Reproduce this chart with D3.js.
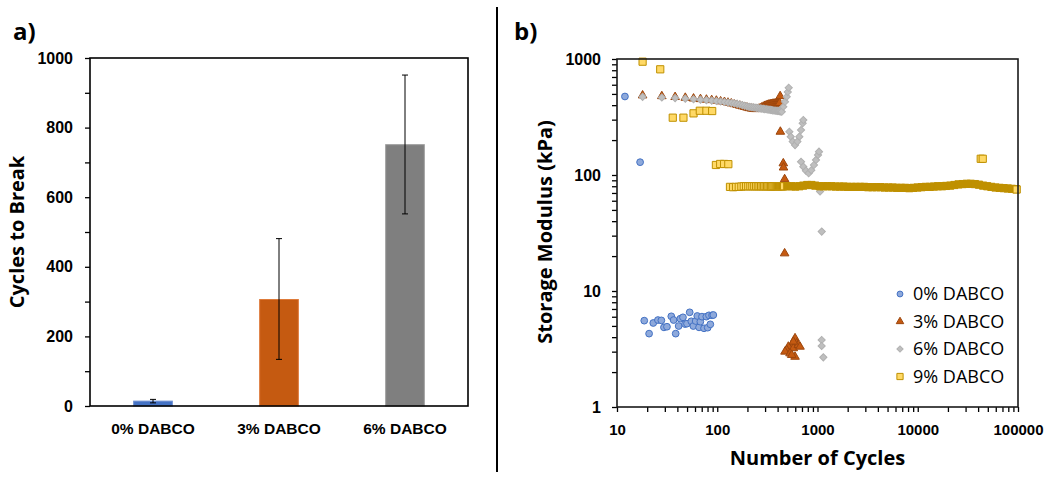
<!DOCTYPE html>
<html lang="en">
<head>
  <meta charset="UTF-8">
  <title>DABCO cycles to break / storage modulus</title>
  <script src="https://d3js.org/d3.v7.min.js"></script>
</head>

<style>
  body {
    margin: 0;
    background: #fff;
  }

  svg {
    display: block;
    font-family: "Open Sans", sans-serif;
  }

  .tick text {
    font-size: 15px;
    font-weight: 700;
    fill: #000;
  }

  .tick line {
    stroke: #000;
    stroke-width: 1.3px;
  }
</style>

<body>
<div id="chart"></div>

<script>
  // ---- panel a: cycles to break (mean + error range) ----
  var groups = ['0% DABCO', '3% DABCO', '6% DABCO'];
  var cyclesMean = [14, 306, 751];
  var cyclesLow = [9, 134, 552];
  var cyclesHigh = [19, 481, 951];
  var barTickValues = [0, 100, 200, 300, 400, 500, 600, 700, 800, 900, 1000];
  var barTickLabels = ['0', '', '200', '', '400', '', '600', '', '800', '', '1000'];

  // ---- panel b: storage modulus (kPa) vs number of cycles ----
  var seriesNames = ['0% DABCO', '3% DABCO', '6% DABCO', '9% DABCO'];

  var dabco0 = [
    [12, 475], [17, 129],
    [18.7, 5.55], [20.9, 4.29], [23.0, 5.30], [25.6, 5.62], [27.7, 5.58], [29.4, 4.86],
    [31.5, 4.92], [34.8, 6.05], [36.7, 5.62], [38.5, 4.29], [41.2, 4.99], [42.8, 5.77],
    [45.5, 5.93], [47.7, 5.19], [49.9, 5.23], [53.1, 6.55], [55.1, 5.48], [57.7, 4.99],
    [60.9, 5.51], [63.2, 6.09], [65.8, 4.86], [67.8, 5.44], [70.4, 6.01], [73.8, 4.77],
    [77.8, 6.01], [80.3, 4.83], [82.7, 6.17], [85.3, 5.16], [88.7, 6.17], [91.4, 6.21]
  ];

  var dabco3 = [
    [18, 485], [28, 478], [38, 470], [48, 463], [58, 456], [68, 451], [78, 446], [88, 442],
    [98, 437], [108, 431], [118, 426], [128, 420], [138, 414], [148, 408], [158, 402],
    [168, 396], [178, 391], [188, 386], [198, 381], [208, 377], [218, 374], [228, 372],
    [238, 370], [248, 370], [258, 372], [268, 376], [278, 382], [288, 388], [298, 394],
    [308, 398], [318, 402], [328, 405], [338, 407], [348, 409], [358, 411], [368, 412],
    [378, 413], [388, 414], [398, 415], [408, 416], [418, 417], [424, 478], [426, 236],
    [456, 126], [458, 116], [470, 92], [470, 21.1],
    [597, 3.91], [620, 3.54], [553, 3.42], [512, 3.31], [493, 3.10], [474, 3.00], [574, 3.21],
    [532, 2.90], [597, 2.71], [553, 2.81], [644, 3.42], [669, 3.31], [574, 3.66]
  ];

  var dabco6 = [
    [18, 472], [28, 466], [38, 460], [48, 455], [58, 450], [68, 446], [78, 442], [88, 438],
    [98, 434], [108, 430], [118, 426], [128, 422], [138, 418], [148, 414], [158, 410],
    [168, 405], [178, 400], [188, 395], [198, 390], [208, 387], [218, 385], [228, 383],
    [238, 381], [248, 379], [258, 377], [268, 375], [278, 373], [288, 372], [298, 370],
    [308, 369], [318, 367], [328, 366], [338, 364], [348, 363], [358, 361], [368, 360],
    [378, 359], [388, 358], [398, 357], [408, 356], [418, 355], [428, 353], [440, 351],
    [456, 388], [474, 428], [493, 473], [505, 520], [516, 565],
    [524, 236], [541, 214], [566, 194], [597, 181], [630, 194], [659, 214], [685, 244],
    [711, 279], [722, 298],
    [685, 130], [722, 118], [767, 109], [816, 103.5], [867, 110], [922, 122], [966, 135],
    [1012, 149], [1035, 159],
    [1060, 72], [1102, 32.5], [1100, 3.78], [1100, 3.36], [1143, 2.68]
  ];

  var dabco9 = [
    [18, 948], [27, 815], [36, 312], [46, 312], [58, 340], [67, 358], [78, 358], [89, 356],
    [97, 122], [107, 124.5], [117, 124.5], [129, 124],
    [134, 79], [144, 78.5], [154, 79], [164, 79], [174, 79.5], [184, 80], [194, 80], [204, 80],
    [214, 80], [224, 80], [234, 80], [244, 80], [254, 80], [264, 80], [274, 80], [284, 80],
    [294, 80], [304, 80], [314, 80], [324, 80], [334, 80], [344, 79.5], [354, 80], [364, 80],
    [374, 80], [384, 80], [394, 80], [404, 80], [414, 80], [424, 80], [434, 80], [444, 80],
    [454, 80], [464, 80],
    [500, 80], [550, 80], [600, 79.5], [660, 80], [720, 81], [790, 82], [870, 82], [950, 81],
    [1050, 80], [1150, 80], [1260, 80], [1380, 80], [1520, 79.5], [1670, 79.5], [1830, 79.5],
    [2000, 79], [2200, 79], [2420, 79], [2660, 79], [2920, 79], [3200, 78.5], [3520, 78.5],
    [3870, 78.5], [4250, 78.5], [4670, 78], [5130, 78], [5640, 78], [6200, 77.5], [6810, 77.5],
    [7490, 77.5], [8230, 77], [9050, 77.5], [9950, 78], [10900, 78.5], [12000, 79], [13200, 79],
    [14500, 79.5], [15900, 80], [17500, 80], [19200, 80.5], [21100, 81], [23200, 82],
    [25500, 83], [28000, 83.5], [30800, 84], [33800, 84], [37200, 83.5], [40800, 82.5],
    [44900, 81], [49300, 80], [54200, 79], [59600, 78], [65500, 77.5], [72000, 77],
    [79100, 76.5], [86900, 76], [95500, 75.5],
    [42500, 138], [44500, 138], [97000, 75]
  ];

  var width = 1050, height = 483;

  var svg = d3.select('#chart').append('svg')
    .attr('width', width)
    .attr('height', height);

  /* ================= panel a ================= */
  var a = {left: 90, right: 468, top: 58, bottom: 406};

  var xBand = d3.scaleBand().domain(groups).range([a.left, a.right]).padding(0);
  var yBar = d3.scaleLinear().domain([0, 1000]).range([a.bottom, a.top]);

  var barFill = ['#4472C4', '#C55A11', '#7F7F7F'];
  var barEdge = ['#6D8FD3', '#DE7A3A', '#A0A0A0'];
  var barW = xBand.bandwidth() * 0.307;

  var panelA = svg.append('g');

  panelA.append('g')
    .attr('transform', 'translate(' + a.left + ',0)')
    .call(d3.axisLeft(yBar).tickValues(barTickValues).tickSize(5).tickPadding(12)
      .tickFormat(function (d, i) { return barTickLabels[i]; }))
    .call(function (g) { g.select('.domain').remove(); })
    .selectAll('text').style('font-size', '16px');

  panelA.selectAll('rect.bar')
    .data(cyclesMean)
    .enter()
    .append('rect')
    .attr('class', 'bar')
    .attr('x', function (d, i) { return xBand(groups[i]) + xBand.bandwidth() / 2 - barW / 2; })
    .attr('y', function (d) { return yBar(d); })
    .attr('width', barW)
    .attr('height', function (d) { return yBar(0) - yBar(d); })
    .attr('fill', function (d, i) { return barFill[i]; })
    .attr('stroke', function (d, i) { return barEdge[i]; })
    .attr('stroke-width', 1);

  // error bars
  var err = panelA.selectAll('g.err')
    .data(groups)
    .enter()
    .append('g')
    .attr('class', 'err')
    .attr('stroke', '#000')
    .attr('stroke-width', 1);

  err.append('line')
    .attr('x1', function (d) { return xBand(d) + xBand.bandwidth() / 2; })
    .attr('x2', function (d) { return xBand(d) + xBand.bandwidth() / 2; })
    .attr('y1', function (d, i) { return yBar(cyclesLow[i]); })
    .attr('y2', function (d, i) { return yBar(cyclesHigh[i]); });

  [cyclesLow, cyclesHigh].forEach(function (arr) {
    err.append('line')
      .attr('x1', function (d) { return xBand(d) + xBand.bandwidth() / 2 - 3; })
      .attr('x2', function (d) { return xBand(d) + xBand.bandwidth() / 2 + 3; })
      .attr('y1', function (d, i) { return yBar(arr[i]); })
      .attr('y2', function (d, i) { return yBar(arr[i]); });
  });

  panelA.append('g')
    .attr('transform', 'translate(0,' + a.bottom + ')')
    .call(d3.axisBottom(xBand).tickSize(0).tickPadding(17))
    .call(function (g) { g.select('.domain').remove(); })
    .selectAll('text').style('font-size', '15.5px');

  panelA.append('rect')
    .attr('x', a.left).attr('y', a.top)
    .attr('width', a.right - a.left).attr('height', a.bottom - a.top)
    .attr('fill', 'none').attr('stroke', '#000').attr('stroke-width', 1.6);

  panelA.append('text')
    .attr('transform', 'translate(24,232) rotate(-90)')
    .attr('text-anchor', 'middle')
    .style('font-size', '20px').style('font-weight', 700)
    .text('Cycles to Break');

  panelA.append('text')
    .attr('x', 13).attr('y', 40)
    .style('font-size', '24px').style('font-weight', 700)
    .text('a)');

  /* divider */
  svg.append('line')
    .attr('x1', 497).attr('x2', 497).attr('y1', 7).attr('y2', 472)
    .attr('stroke', '#000').attr('stroke-width', 2);

  /* ================= panel b ================= */
  var b = {left: 617, right: 1018, top: 59, bottom: 407};

  var x = d3.scaleLog().domain([10, 100000]).range([b.left, b.right]);
  var y = d3.scaleLog().domain([1, 1000]).range([b.bottom, b.top]);

  function decadeOnly(d) { return /^10*$/.test(String(d)) ? String(d) : ''; }

  var panelB = svg.append('g');

  panelB.append('g')
    .attr('transform', 'translate(' + b.left + ',0)')
    .call(d3.axisLeft(y).tickValues(y.ticks()).tickSize(5).tickPadding(11).tickFormat(decadeOnly))
    .call(function (g) { g.select('.domain').remove(); })
    .selectAll('text').style('font-size', '16px');

  panelB.append('g')
    .attr('transform', 'translate(0,' + b.bottom + ')')
    .call(d3.axisBottom(x).tickValues(x.ticks()).tickSize(5).tickPadding(12).tickFormat(decadeOnly))
    .call(function (g) { g.select('.domain').remove(); });

  var styles = [
    {type: d3.symbolCircle, size: 36, rot: 0, fill: '#8EA9DB', stroke: '#4472C4'},
    {type: d3.symbolTriangle, size: 32, rot: 0, fill: '#C55A11', stroke: '#9C460D'},
    {type: d3.symbolSquare, size: 26, rot: 45, fill: '#BFBFBF', stroke: '#B0B0B0'},
    {type: d3.symbolSquare, size: 52, rot: 0, fill: '#FFD966', stroke: '#BF9000'}
  ];

  var plot = panelB.append('g');

  [dabco0, dabco3, dabco6, dabco9].forEach(function (series, k) {
    var st = styles[k];
    plot.append('g')
      .selectAll('path')
      .data(series)
      .enter()
      .append('path')
      .attr('d', d3.symbol().type(st.type).size(st.size))
      .attr('transform', function (d) {
        return 'translate(' + x(d[0]) + ',' + y(d[1]) + ') rotate(' + st.rot + ')';
      })
      .attr('fill', function (d) {
        // densely logged 9% region reads as a solid gold band
        return (k === 3 && d[0] > 480 && d[0] < 96000 && d[1] < 100) ? st.stroke : st.fill;
      })
      .attr('stroke', st.stroke)
      .attr('stroke-width', 1);
  });

  panelB.append('rect')
    .attr('x', b.left).attr('y', b.top)
    .attr('width', b.right - b.left).attr('height', b.bottom - b.top)
    .attr('fill', 'none').attr('stroke', '#1a1a1a').attr('stroke-width', 1.6);

  // legend
  var legend = panelB.append('g')
    .selectAll('g')
    .data(seriesNames)
    .enter()
    .append('g')
    .attr('transform', function (d, i) { return 'translate(900,' + (294 + i * 27.5) + ')'; });

  legend.append('path')
    .attr('d', function (d, i) { return d3.symbol().type(styles[i].type).size(styles[i].size * 0.75)(); })
    .attr('transform', function (d, i) { return 'rotate(' + styles[i].rot + ')'; })
    .attr('fill', function (d, i) { return styles[i].fill; })
    .attr('stroke', function (d, i) { return styles[i].stroke; });

  legend.append('text')
    .attr('x', 13)
    .attr('dy', '0.36em')
    .style('font-size', '18px')
    .text(function (d) { return d; });

  panelB.append('text')
    .attr('transform', 'translate(552,232) rotate(-90)')
    .attr('text-anchor', 'middle')
    .style('font-size', '20px').style('font-weight', 700)
    .text('Storage Modulus (kPa)');

  panelB.append('text')
    .attr('x', (b.left + b.right) / 2).attr('y', 465)
    .attr('text-anchor', 'middle')
    .style('font-size', '20px').style('font-weight', 700)
    .text('Number of Cycles');

  panelB.append('text')
    .attr('x', 514).attr('y', 40)
    .style('font-size', '24px').style('font-weight', 700)
    .text('b)');
</script>
</body>
</html>
